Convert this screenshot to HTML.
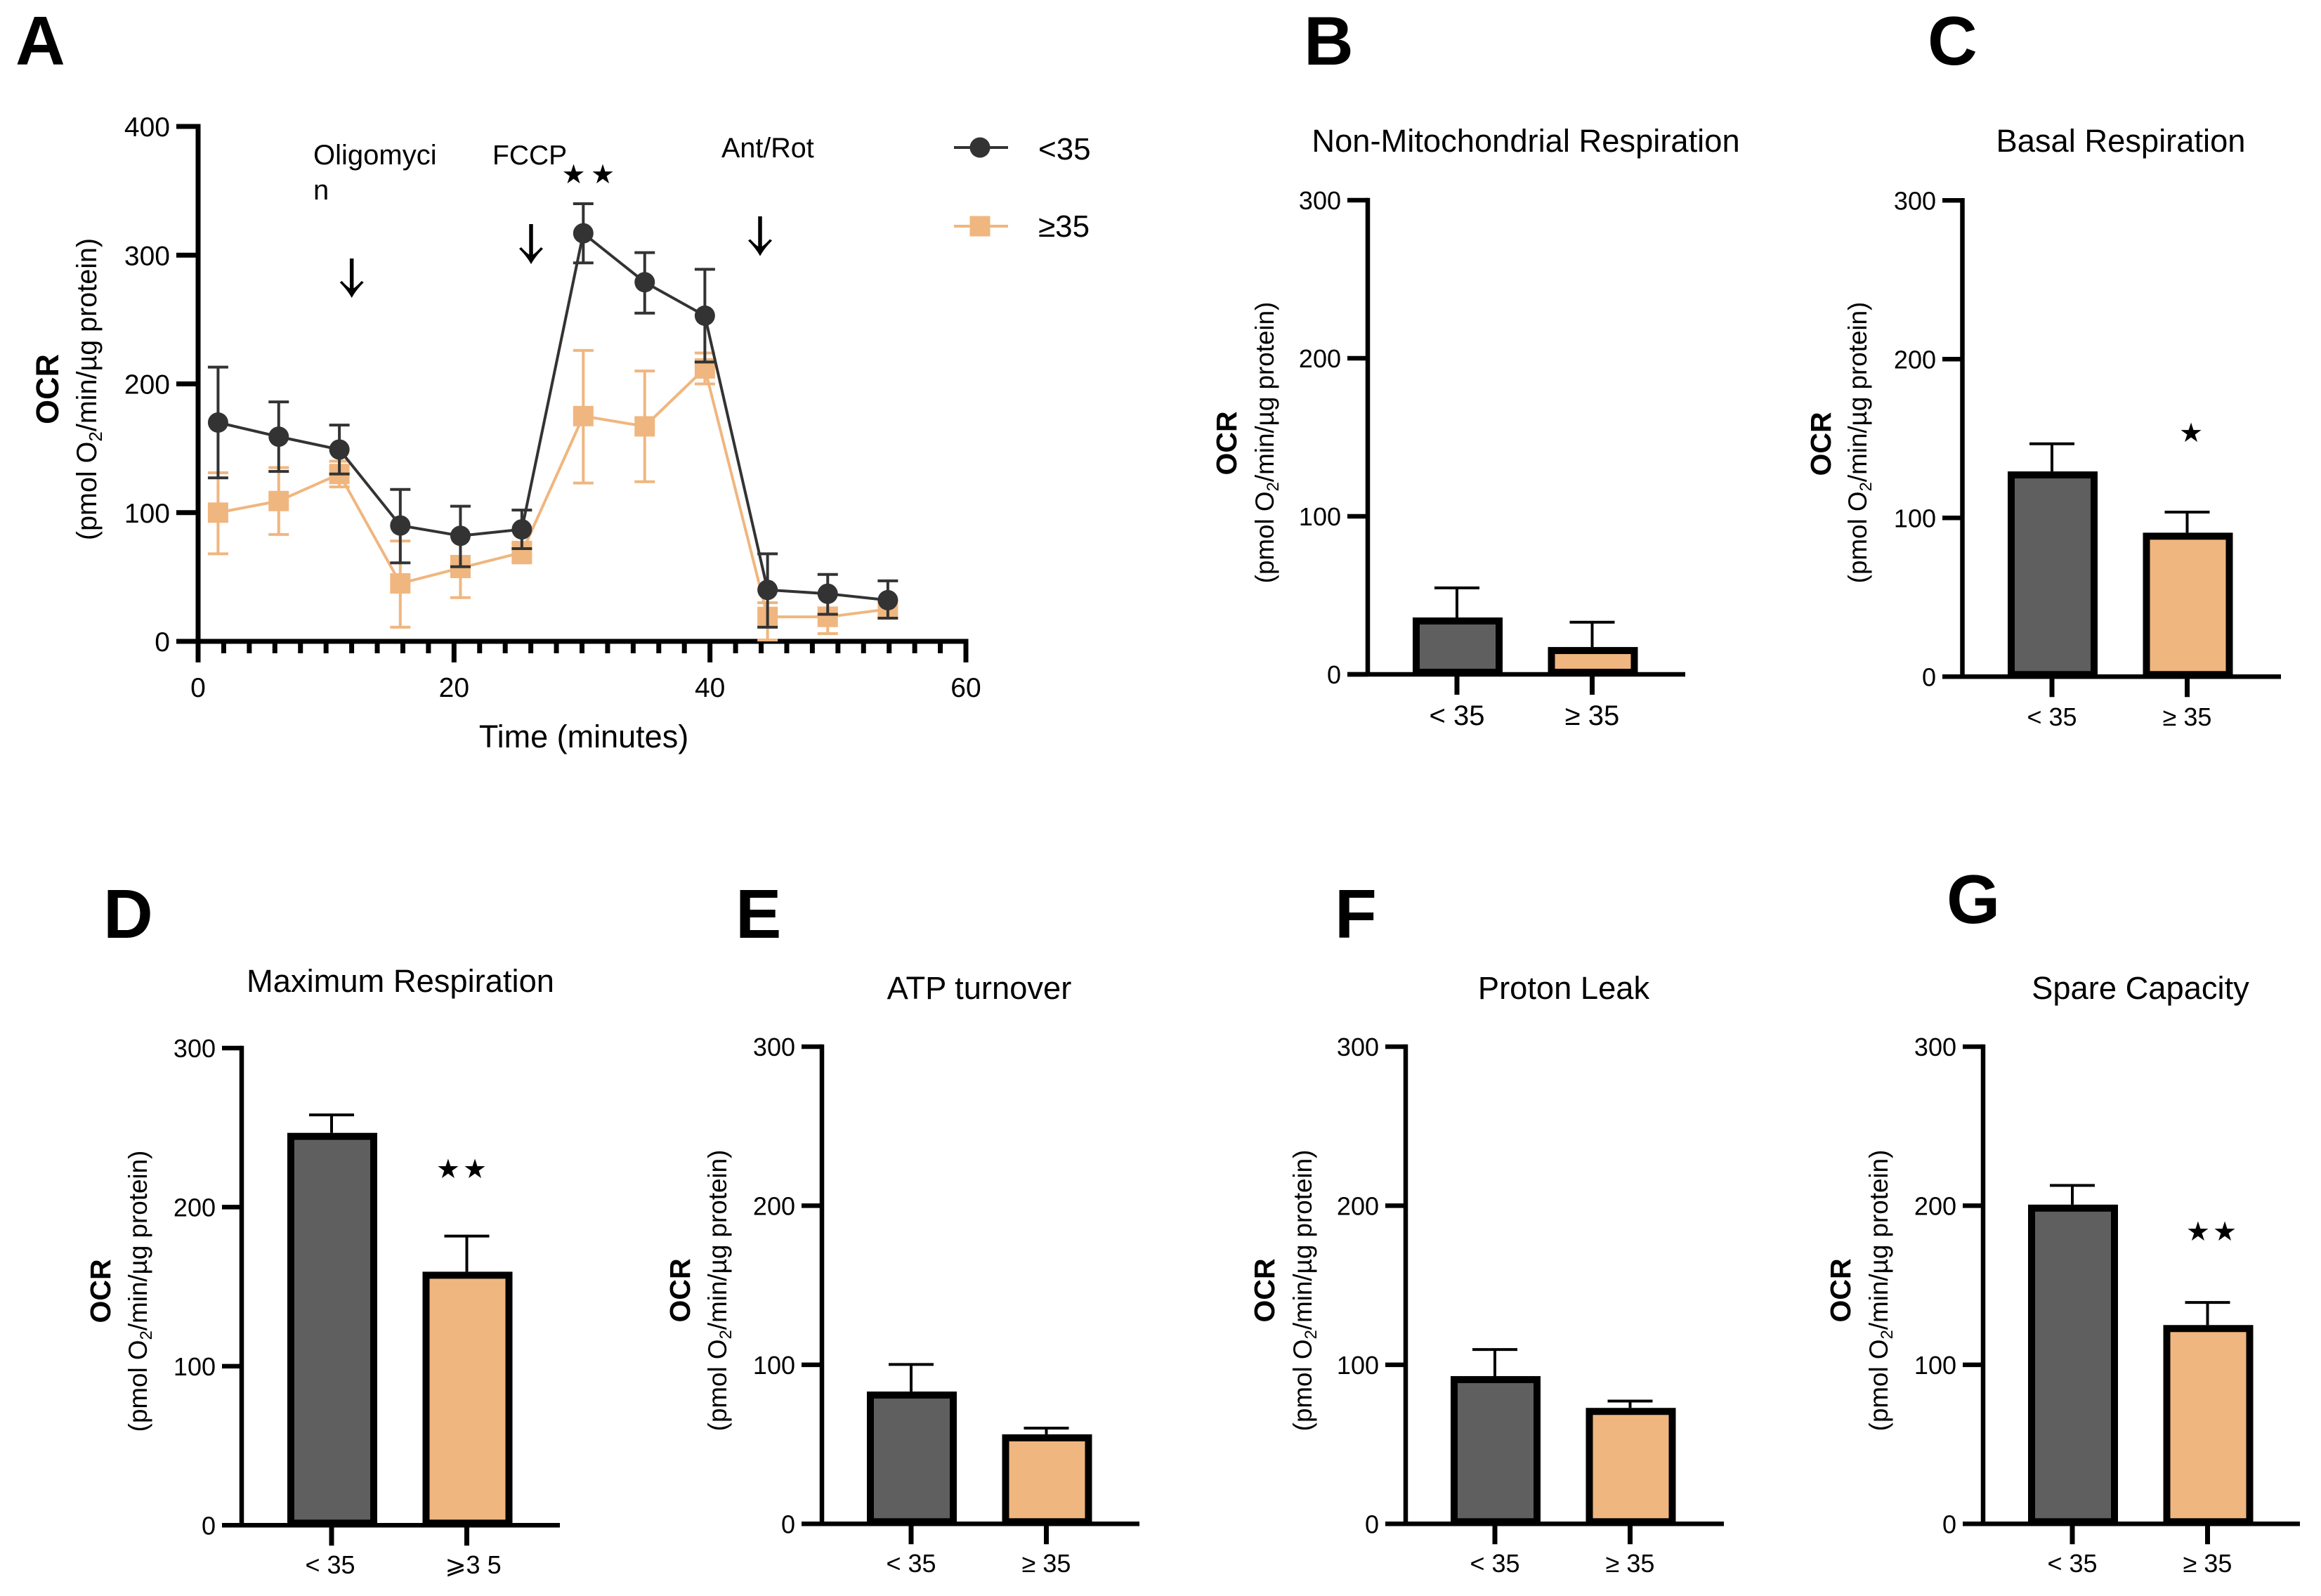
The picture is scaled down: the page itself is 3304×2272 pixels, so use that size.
<!DOCTYPE html>
<html lang="en">
<head>
<meta charset="utf-8">
<title>Oxygen consumption rate figure</title>
<style>
html,body{margin:0;padding:0;background:#fff}
svg{display:block}
text{font-family:"Liberation Sans",Arial,sans-serif;fill:#000}
.panel-letter{font-size:98px;font-weight:700}
.ocr-a{font-size:45px;font-weight:700}
.ocr{font-size:41px;font-weight:700}
.unit-a{font-size:39.5px}
.unit{font-size:36.8px}
.title{font-size:45.3px}
.star{font-family:"DejaVu Sans","Liberation Sans",sans-serif}
</style>
</head>
<body>
<svg id="figure" xmlns="http://www.w3.org/2000/svg" width="3304" height="2272" viewBox="0 0 3304 2272">
  <rect width="3304" height="2272" fill="#fff"/>

  <text class="panel-letter" x="22" y="92">A</text>
  <text class="panel-letter" x="1856" y="92">B</text>
  <text class="panel-letter" x="2744" y="92">C</text>
  <text class="panel-letter" x="147" y="1335">D</text>
  <text class="panel-letter" x="1047" y="1335">E</text>
  <text class="panel-letter" x="1900" y="1335">F</text>
  <text class="panel-letter" x="2771" y="1314">G</text>

  <g id="panel-a">
    <text class="ocr-a" text-anchor="middle" transform="translate(83 554) rotate(-90)">OCR</text>
    <text class="unit-a" text-anchor="middle" transform="translate(137 554) rotate(-90)">(pmol O<tspan font-size="26" dy="8">2</tspan><tspan dy="-8">/min/µg protein)</tspan></text>
    <text x="831" y="1064" font-size="45" text-anchor="middle">Time (minutes)</text>
    <text x="446" y="234" font-size="40">Oligomyci</text>
    <text x="446" y="284" font-size="40">n</text>
    <text x="701" y="234" font-size="39">FCCP</text>
    <text x="1027" y="224" font-size="39.5">Ant/Rot</text>
    <text class="star" x="816.5" y="261" font-size="38" text-anchor="middle">★</text>
    <text class="star" x="858" y="261" font-size="38" text-anchor="middle">★</text>
    <g>
      <line x1="500.7" x2="500.7" y1="368" y2="418" stroke="#000" stroke-width="5.5"/>
      <path d="M483.7 402L486.7 400Q494.7 409 500.7 412Q506.7 409 514.7 400L517.7 402Q506.7 413 500.7 424Q494.7 413 483.7 402Z" fill="#000"/>
    </g>
    <g>
      <line x1="756" x2="756" y1="319" y2="370" stroke="#000" stroke-width="5.5"/>
      <path d="M739 354L742 352Q750 361 756 364Q762 361 770 352L773 354Q762 365 756 376Q750 365 739 354Z" fill="#000"/>
    </g>
    <g>
      <line x1="1082" x2="1082" y1="308" y2="358" stroke="#000" stroke-width="5.5"/>
      <path d="M1065 342.5L1068 340.5Q1076 349.5 1082 352.5Q1088 349.5 1096 340.5L1099 342.5Q1088 353.5 1082 364.5Q1076 353.5 1065 342.5Z" fill="#000"/>
    </g>
    <g>
      <line x1="1358" x2="1435" y1="210" y2="210" stroke="#333" stroke-width="4"/>
      <circle cx="1395" cy="210" r="14.5" fill="#333"/>
      <text x="1478" y="227" font-size="44">&lt;35</text>
    </g>
    <g>
      <line x1="1358" x2="1435" y1="322" y2="322" stroke="#f0b67f" stroke-width="4"/>
      <rect x="1380.5" y="307.5" width="29" height="29" fill="#f0b67f"/>
      <text x="1478" y="337" font-size="44">≥35</text>
    </g>
  </g>

  <g id="panel-b">
    <text class="title" x="2172" y="216" text-anchor="middle">Non-Mitochondrial Respiration</text>
    <text class="ocr" text-anchor="middle" transform="translate(1760 631) rotate(-90)">OCR</text>
    <text class="unit" text-anchor="middle" transform="translate(1813 630) rotate(-90)">(pmol O<tspan font-size="24" dy="7">2</tspan><tspan dy="-7">/min/µg protein)</tspan></text>
  </g>
  <g id="panel-c">
    <text class="title" x="3019" y="216" text-anchor="middle">Basal Respiration</text>
    <text class="ocr" text-anchor="middle" transform="translate(2606 632) rotate(-90)">OCR</text>
    <text class="unit" text-anchor="middle" transform="translate(2657 630) rotate(-90)">(pmol O<tspan font-size="24" dy="7">2</tspan><tspan dy="-7">/min/µg protein)</tspan></text>
    <text class="star" x="3119" y="629" font-size="38" text-anchor="middle">★</text>
  </g>
  <g id="panel-d">
    <text class="title" x="570" y="1412" text-anchor="middle">Maximum Respiration</text>
    <text class="ocr" text-anchor="middle" transform="translate(157 1838) rotate(-90)">OCR</text>
    <text class="unit" text-anchor="middle" transform="translate(209 1838) rotate(-90)">(pmol O<tspan font-size="24" dy="7">2</tspan><tspan dy="-7">/min/µg protein)</tspan></text>
    <text class="star" x="659" y="1677" font-size="38" text-anchor="middle" letter-spacing="4">★★</text>
  </g>
  <g id="panel-e">
    <text class="title" x="1394" y="1422" text-anchor="middle">ATP turnover</text>
    <text class="ocr" text-anchor="middle" transform="translate(982 1837) rotate(-90)">OCR</text>
    <text class="unit" text-anchor="middle" transform="translate(1034 1837) rotate(-90)">(pmol O<tspan font-size="24" dy="7">2</tspan><tspan dy="-7">/min/µg protein)</tspan></text>
  </g>
  <g id="panel-f">
    <text class="title" x="2226" y="1422" text-anchor="middle">Proton Leak</text>
    <text class="ocr" text-anchor="middle" transform="translate(1814 1837) rotate(-90)">OCR</text>
    <text class="unit" text-anchor="middle" transform="translate(1867 1837) rotate(-90)">(pmol O<tspan font-size="24" dy="7">2</tspan><tspan dy="-7">/min/µg protein)</tspan></text>
  </g>
  <g id="panel-g">
    <text class="title" x="3047" y="1422" text-anchor="middle">Spare Capacity</text>
    <text class="ocr" text-anchor="middle" transform="translate(2634 1837) rotate(-90)">OCR</text>
    <text class="unit" text-anchor="middle" transform="translate(2687 1837) rotate(-90)">(pmol O<tspan font-size="24" dy="7">2</tspan><tspan dy="-7">/min/µg protein)</tspan></text>
    <text class="star" x="3150" y="1766" font-size="38" text-anchor="middle" letter-spacing="4">★★</text>
  </g>
</svg>

<script>
// Panel A data
const timeMinutes = [1.56, 6.3, 11.04, 15.8, 20.5, 25.3, 30.1, 34.9, 39.6, 44.5, 49.2, 53.9];
const under35Mean = [170, 159, 149, 90, 82, 87, 317, 279, 253, 40, 37, 32];
const under35Upper = [213, 186, 168, 118, 105, 102, 340, 302, 289, 68, 52, 47];
const under35Lower = [127, 132, 130, 61, 58, 72, 294, 255, 217, 11, 21, 18];
const over35Mean = [100, 109, 130, 45, 57, 69, 175, 167, 212, 19, 19, 25];
const over35Upper = [131, 135, 140, 78, 66, 77, 226, 210, 224, 30, 26, 31];
const over35Lower = [68, 83, 120, 11, 34, 61, 123, 124, 200, 1, 6, 19];
const lineYTicks = [0, 100, 200, 300, 400];
const lineXMajorTicks = [0, 20, 40, 60];
const lineXMinorTicks = [2, 4, 6, 8, 10, 12, 14, 16, 18, 22, 24, 26, 28, 30, 32, 34, 36, 38, 42, 44, 46, 48, 50, 52, 54, 56, 58];

// Bar panel data
const barYTicks = [0, 100, 200, 300];
const barCategories = ['< 35', '≥ 35'];
const barCategoriesPanelD = ['< 35', '⩾3 5'];
const nonMitoMeans = [36, 17.3];
const nonMitoErrorTops = [54.7, 33];
const basalMeans = [129.3, 90.7];
const basalErrorTops = [146.7, 103.7];
const maximumMeans = [246.7, 159.4];
const maximumErrorTops = [258, 181.8];
const atpMeans = [83.2, 56.3];
const atpErrorTops = [100.2, 60.2];
const protonMeans = [92.9, 72.9];
const protonErrorTops = [109.6, 77.2];
const spareMeans = [200.7, 125];
const spareErrorTops = [212.8, 139.2];

const SVG_NS = 'http://www.w3.org/2000/svg';
const BLACK = '#000';
const DARK = '#333';
const ORANGE = '#f0b67f';
const BAR_GREY = '#5f5f5f';

function makeLine(parent, name, x1, y1, x2, y2, color, width) {
  const el = document.createElementNS(SVG_NS, 'line');
  
  
  el.setAttribute('x1', x1);
  el.setAttribute('y1', y1);
  el.setAttribute('x2', x2);
  el.setAttribute('y2', y2);
  el.setAttribute('stroke', color);
  el.setAttribute('stroke-width', width);
  parent.appendChild(el);
  return el;
}

function makeLabel(parent, name, x, y, content, size, anchor) {
  const el = document.createElementNS(SVG_NS, 'text');
  
  
  el.setAttribute('x', x);
  el.setAttribute('y', y);
  el.setAttribute('font-size', size);
  el.setAttribute('text-anchor', anchor);
  el.style.fontFamily = '"Liberation Sans","DejaVu Sans",sans-serif';
  el.textContent = content;
  parent.appendChild(el);
  return el;
}

/* ---------- Panel A ---------- */
const lineX = function (t) { return 282 + t * (1375 - 282) / 60; };
const lineY = function (v) { return 913 - v * (913 - 180) / 400; };

function drawLinePanel() {
  const panel = document.getElementById('panel-a');
  makeLine(panel, 'y-axis-line', lineX(0), lineY(400) - 3.5, lineX(0), lineY(0) + 3.5, BLACK, 7);
  makeLine(panel, 'x-axis-line', 251, lineY(0), lineX(60) + 3.5, lineY(0), BLACK, 7);
  lineYTicks.forEach(function (v) {
    makeLine(panel, 'y-tick-' + v, 251, lineY(v), lineX(0), lineY(v), BLACK, 7);
    makeLabel(panel, 'y-tick-label-' + v, 242, lineY(v) + 14, String(v), 39, 'end');
  });
  lineXMajorTicks.forEach(function (t) {
    makeLine(panel, 'x-tick-' + t, lineX(t), lineY(0), lineX(t), 943, BLACK, 7);
    makeLabel(panel, 'x-tick-label-' + t, lineX(t), 992, String(t), 39, 'middle');
  });
  lineXMinorTicks.forEach(function (t) {
    makeLine(panel, 'x-minor-tick-' + t, lineX(t), lineY(0), lineX(t), 930, BLACK, 7);
  });
  drawSeries(panel, 'over-35', over35Mean, over35Upper, over35Lower, ORANGE, 'square');
  drawSeries(panel, 'under-35', under35Mean, under35Upper, under35Lower, DARK, 'circle');
}

function drawSeries(parent, name, means, uppers, lowers, color, shape) {
  const g = document.createElementNS(SVG_NS, 'g');
  
  
  parent.appendChild(g);
  timeMinutes.forEach(function (t, i) {
    const x = lineX(t);
    makeLine(g, 'error-bar-' + name + '-' + i, x, lineY(uppers[i]), x, lineY(lowers[i]), color, 4);
    makeLine(g, 'error-cap-upper-' + name + '-' + i, x - 14.5, lineY(uppers[i]), x + 14.5, lineY(uppers[i]), color, 4);
    makeLine(g, 'error-cap-lower-' + name + '-' + i, x - 14.5, lineY(lowers[i]), x + 14.5, lineY(lowers[i]), color, 4);
  });
  const path = document.createElementNS(SVG_NS, 'polyline');
  
  
  path.setAttribute('points', timeMinutes.map(function (t, i) { return lineX(t) + ',' + lineY(means[i]); }).join(' '));
  path.setAttribute('fill', 'none');
  path.setAttribute('stroke', color);
  path.setAttribute('stroke-width', 4);
  g.appendChild(path);
  timeMinutes.forEach(function (t, i) {
    const x = lineX(t);
    const y = lineY(means[i]);
    if (shape === 'circle') {
      const dot = document.createElementNS(SVG_NS, 'circle');
      
      
      dot.setAttribute('cx', x);
      dot.setAttribute('cy', y);
      dot.setAttribute('r', 14.5);
      dot.setAttribute('fill', color);
      g.appendChild(dot);
    } else {
      const box = document.createElementNS(SVG_NS, 'rect');
      
      
      box.setAttribute('x', x - 14.5);
      box.setAttribute('y', y - 14.5);
      box.setAttribute('width', 29);
      box.setAttribute('height', 29);
      box.setAttribute('fill', color);
      g.appendChild(box);
    }
  });
}

/* ---------- Bar panels ---------- */
function drawBarPanel(panelId, frame, means, errorTops, categories) {
  const panel = document.getElementById(panelId);
  const yOf = function (v) { return frame.y0 - v * (frame.y0 - frame.y300) / 300; };
  const xOf = function (i) { return frame.firstBar + i * 192.5; };
  makeLine(panel, 'y-axis-line', frame.axisX, yOf(300) - 3.25, frame.axisX, yOf(0), BLACK, 6.5);
  barYTicks.forEach(function (v) {
    makeLine(panel, 'y-tick-' + v, frame.tickStart, yOf(v), frame.axisX, yOf(v), BLACK, 6.5);
    makeLabel(panel, 'y-tick-label-' + v, frame.tickStart - 9, yOf(v) + 13, String(v), 36, 'end');
  });
  means.forEach(function (m, i) {
    const x = xOf(i);
    makeLine(panel, 'error-stem-' + i, x - 1, yOf(errorTops[i]), x - 1, yOf(m), BLACK, 4);
    makeLine(panel, 'error-cap-' + i, x - 33, yOf(errorTops[i]), x + 31, yOf(errorTops[i]), BLACK, 4);
    const bar = document.createElementNS(SVG_NS, 'rect');
    
    
    bar.setAttribute('x', x - 64 + 5);
    bar.setAttribute('y', yOf(m) + 5);
    bar.setAttribute('width', 118);
    bar.setAttribute('height', yOf(0) - yOf(m) - 8);
    bar.setAttribute('fill', i === 0 ? BAR_GREY : ORANGE);
    bar.setAttribute('stroke', BLACK);
    bar.setAttribute('stroke-width', 10);
    panel.appendChild(bar);
    makeLine(panel, 'x-tick-' + i, x - 1, yOf(0), x - 1, yOf(0) + 29, BLACK, 7);
    makeLabel(panel, 'x-tick-label-' + i, x - 1 + (frame.labelShift ? frame.labelShift[i] : 0), frame.labelY, categories[i], frame.labelSize, 'middle');
  });
  makeLine(panel, 'x-axis-line', frame.tickStart, yOf(0), frame.axisEnd, yOf(0), BLACK, 6.5);
}

drawLinePanel();
drawBarPanel('panel-b', { axisX: 1947, tickStart: 1918, axisEnd: 2399, firstBar: 2075, y0: 960, y300: 285, labelY: 1032, labelSize: 40 }, nonMitoMeans, nonMitoErrorTops, barCategories);
drawBarPanel('panel-c', { axisX: 2793.5, tickStart: 2765, axisEnd: 3247, firstBar: 2922, y0: 963.3, y300: 285.3, labelY: 1033, labelSize: 36 }, basalMeans, basalErrorTops, barCategories);
drawBarPanel('panel-d', { axisX: 344, tickStart: 316, axisEnd: 797, firstBar: 473, y0: 2171.3, y300: 1492, labelY: 2240, labelSize: 36, labelShift: [-2, 9] }, maximumMeans, maximumErrorTops, barCategoriesPanelD);
drawBarPanel('panel-e', { axisX: 1170, tickStart: 1141, axisEnd: 1622, firstBar: 1298, y0: 2169.3, y300: 1490, labelY: 2238, labelSize: 36 }, atpMeans, atpErrorTops, barCategories);
drawBarPanel('panel-f', { axisX: 2001, tickStart: 1972, axisEnd: 2454, firstBar: 2129, y0: 2169.3, y300: 1490, labelY: 2238, labelSize: 36 }, protonMeans, protonErrorTops, barCategories);
drawBarPanel('panel-g', { axisX: 2823, tickStart: 2794, axisEnd: 3274, firstBar: 2951, y0: 2169.3, y300: 1490, labelY: 2238, labelSize: 36 }, spareMeans, spareErrorTops, barCategories);
</script>
</body>
</html>
